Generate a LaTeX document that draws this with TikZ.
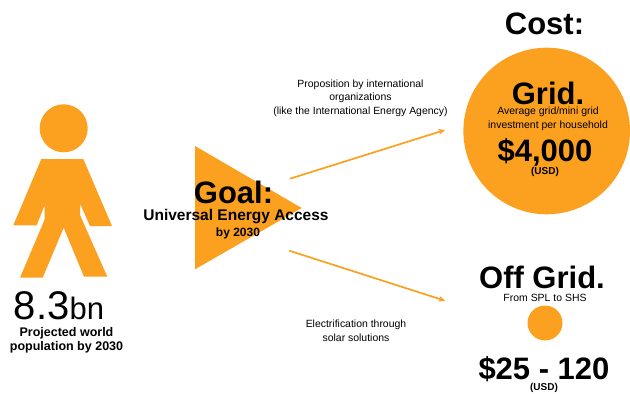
\documentclass[tikz,border=0pt]{standalone}
\usepackage{fontspec}
\setmainfont{Liberation Sans}
\definecolor{org}{HTML}{FBA01F}
\usetikzlibrary{arrows.meta}
\tikzset{
 shapefill/.style={fill=org,draw=none},
 lbl/.style={inner sep=0pt,align=center,text=black},
 flow/.style={draw=org,line width=1.7pt,-{Stealth[length=6.5pt,width=6pt]}}
}
\newcommand{\fs}[2]{\fontsize{#1}{#2}\selectfont}
\begin{document}
\begin{tikzpicture}[x=1pt,y=-1pt]
\useasboundingbox (0,0) rectangle (630,394);
% person
\fill[shapefill] (63.7,128.3) circle[radius=24];
\fill[shapefill] (41.3,159) -- (83.3,159) -- (112,226) -- (90,226) -- (80,203.5) -- (80,215) -- (107.3,276.7) -- (84,276.7) -- (63.7,227.7) -- (42.7,277.7) -- (20,277.7) -- (44.7,219.3) -- (44.7,205) -- (36.7,225.3) -- (13.3,225.3) -- cycle;
\node[lbl] (num) at (59,306) {\fs{40}{42}8.3\fs{31}{34}bn};
\node[lbl,font=\fs{12.5}{14.5}\bfseries] (pop) at (66.5,340.5) {Projected world\\population by 2030};
% triangle
\fill[shapefill] (195,146) -- (301.7,208) -- (195,269.3) -- cycle;
\node[lbl] (goal) at (233.5,192.5) {\fs{31}{34}\bfseries Goal:};
\node[lbl] (uni) at (236,217) {\fs{15.5}{18}\bfseries Universal Energy Access};
\node[lbl] (by) at (238,233) {\fs{12}{14}\bfseries by 2030};
% arrows
\coordinate (a1) at (290,178.7);
\coordinate (a2) at (445,130);
\coordinate (b1) at (289.3,250.7);
\coordinate (b2) at (445,300.7);
\draw[flow] (a1) -- (a2);
\draw[flow] (b1) -- (b2);
\node[lbl,font=\fs{10.45}{13.5}] (prop) at (360.5,98) {Proposition by international\\organizations\\(like the International Energy Agency)};
\node[lbl,font=\fs{10.45}{13.5}] (elec) at (356,331) {Electrification through\\solar solutions};
% cost
\node[lbl] (cost) at (544.5,24) {\fs{31}{34}\bfseries Cost:};
\fill[shapefill] (546.7,131) circle[radius=83.3];
\node[lbl] (grid) at (548,93) {\fs{31}{34}\bfseries Grid.};
\node[lbl,font=\fs{10.45}{13.5}] (avg) at (548,119) {Average grid/mini grid\\investment per household};
\node[lbl] (four) at (545,152) {\fs{31}{34}\bfseries \$4,000};
\node[lbl] (usd1) at (545,171.5) {\fs{10}{11}\bfseries (USD)};
\node[lbl] (off) at (542,277) {\fs{31}{34}\bfseries Off Grid.};
\node[lbl] (spl) at (545,297.5) {\fs{10.45}{12}From SPL to SHS};
\fill[shapefill] (545,323) circle[radius=17.5];
\node[lbl] (price) at (544,369) {\fs{31}{34}\bfseries \$25 - 120};
\node[lbl] (usd2) at (544,387.5) {\fs{10}{11}\bfseries (USD)};
\end{tikzpicture}
\end{document}
